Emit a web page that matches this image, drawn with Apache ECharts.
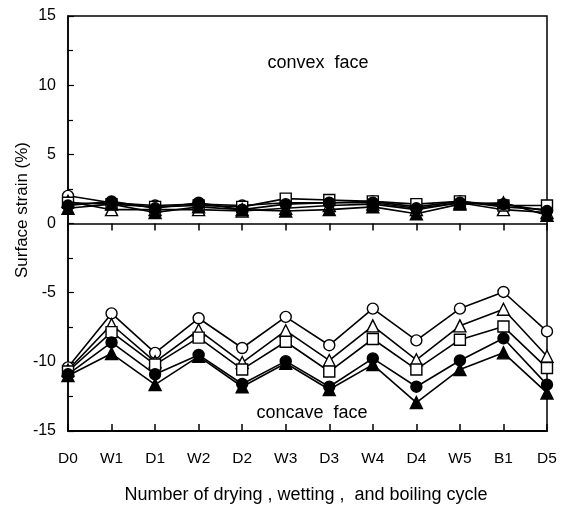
<!DOCTYPE html>
<html>
<head>
<meta charset="utf-8">
<script src="https://cdn.jsdelivr.net/npm/echarts@6/dist/echarts.min.js"></script>
<style>html,body{margin:0;padding:0;background:#fff}#c{width:565px;height:506px}</style>
</head>
<body>
<div id="c"></div>
<script>
const categories = ['D0','W1','D1','W2','D2','W3','D3','W4','D4','W5','B1','D5'];
const yTicks = [-15,-10,-5,0,5,10,15];

// convex face (top)
const convexOpenCircle   = [2.0, 1.5, 1.3, 1.4, 1.3, 1.5, 1.5, 1.6, 1.2, 1.6, 1.2, 1.0];
const convexOpenTriangle = [1.6, 1.0, 1.0, 1.0, 0.9, 1.1, 1.3, 1.4, 1.0, 1.5, 1.0, 0.8];
const convexOpenSquare   = [1.5, 1.4, 1.2, 1.3, 1.2, 1.8, 1.7, 1.6, 1.4, 1.6, 1.3, 1.3];
const convexFillCircle   = [1.3, 1.6, 1.1, 1.5, 1.0, 1.4, 1.5, 1.5, 1.1, 1.5, 1.4, 0.9];
const convexFillTriangle = [1.1, 1.4, 0.8, 1.2, 1.0, 0.9, 1.0, 1.2, 0.7, 1.4, 1.5, 0.6];

// concave face (bottom)
const concaveOpenCircle   = [-10.4, -6.5, -9.35, -6.85, -9.0, -6.75, -8.8, -6.15, -8.45, -6.15, -4.95, -7.8];
const concaveOpenTriangle = [-10.6, -7.3, -10.0, -7.7, -10.05, -7.75, -9.9, -7.4, -9.85, -7.4, -6.2, -9.6];
const concaveOpenSquare   = [-10.7, -7.85, -10.2, -8.25, -10.55, -8.55, -10.7, -8.35, -10.55, -8.4, -7.45, -10.45];
const concaveFillCircle   = [-10.9, -8.6, -10.9, -9.5, -11.6, -9.95, -11.8, -9.75, -11.8, -9.9, -8.3, -11.65];
const concaveFillTriangle = [-11.0, -9.4, -11.65, -9.6, -11.8, -10.1, -12.0, -10.2, -12.95, -10.55, -9.35, -12.25];

const fontFam = '"Liberation Sans", Arial, Helvetica, sans-serif';

function mk(name, data, symbol, filled, size) {
  return {
    name: name, type: 'line', data: data,
    symbol: symbol, symbolSize: size,
    showSymbol: true,
    lineStyle: { color: '#000', width: 1.6 },
    itemStyle: { color: filled ? '#000' : '#fff', borderColor: '#000', borderWidth: 1.4 },
    emphasis: { disabled: true },
    animation: false, z: filled ? 4 : 3
  };
}

const chart = echarts.init(document.getElementById('c'), null, { renderer: 'canvas' });
chart.setOption({
  animation: false,
  backgroundColor: '#fff',
  grid: { left: 68, right: 18, top: 16, bottom: 75, show: true, borderColor: '#000', borderWidth: 1.5, backgroundColor: 'transparent' },
  xAxis: [
    {
      type: 'category', data: categories, boundaryGap: false,
      axisLine: { onZero: false, lineStyle: { color: '#000', width: 1.5 } },
      axisTick: { show: false },
      axisLabel: { color: '#000', fontSize: 15.5, fontFamily: fontFam, margin: 20 },
      splitLine: { show: false }
    },
    {
      type: 'category', data: categories, boundaryGap: false, position: 'bottom',
      axisLine: { onZero: true, lineStyle: { color: '#000', width: 1.5 } },
      axisTick: { show: true, inside: false, length: 7, lineStyle: { color: '#000', width: 1.5 } },
      axisLabel: { show: false },
      splitLine: { show: false }
    },
    {
      type: 'category', data: categories, boundaryGap: false, position: 'bottom',
      axisLine: { onZero: true, lineStyle: { color: '#000', width: 1.5 } },
      axisTick: { show: true, inside: true, length: 7, lineStyle: { color: '#000', width: 1.5 } },
      axisLabel: { show: false },
      splitLine: { show: false }
    }
  ],
  yAxis: {
    type: 'value', min: -15, max: 15, interval: 5,
    axisLine: { show: true, onZero: false, lineStyle: { color: '#000', width: 1.5 } },
    axisTick: { show: true, inside: true, length: 6, lineStyle: { color: '#000', width: 1.2 } },
    minorTick: { show: true, splitNumber: 2, length: 5, lineStyle: { color: '#000', width: 1.2 } },
    axisLabel: { color: '#000', fontSize: 16, fontFamily: fontFam, margin: 12,
      formatter: v => yTicks.includes(v) ? String(v) : '' },
    splitLine: { show: false }
  },
  series: [
    mk('cvOC', convexOpenCircle, 'circle', false, 11),
    mk('cvOT', convexOpenTriangle, 'triangle', false, 12),
    mk('cvOS', convexOpenSquare, 'rect', false, 11),
    mk('cvFC', convexFillCircle, 'circle', true, 11),
    mk('cvFT', convexFillTriangle, 'triangle', true, 12),
    mk('ccOC', concaveOpenCircle, 'circle', false, 11),
    mk('ccOT', concaveOpenTriangle, 'triangle', false, 12),
    mk('ccOS', concaveOpenSquare, 'rect', false, 11),
    mk('ccFC', concaveFillCircle, 'circle', true, 11),
    mk('ccFT', concaveFillTriangle, 'triangle', true, 12)
  ],
  graphic: [
    { type: 'text', x: 22, y: 210, rotation: Math.PI / 2, style: { text: 'Surface strain (%)', fill: '#000', font: '17px ' + fontFam, textAlign: 'center', textVerticalAlign: 'middle' } },
    { type: 'text', x: 306, y: 495, style: { text: 'Number of drying , wetting ,  and boiling cycle', fill: '#000', font: '18px ' + fontFam, textAlign: 'center', textVerticalAlign: 'middle' } },
    { type: 'text', x: 318, y: 63, style: { text: 'convex  face', fill: '#000', font: '18px ' + fontFam, textAlign: 'center', textVerticalAlign: 'middle' } },
    { type: 'text', x: 312, y: 413, style: { text: 'concave  face', fill: '#000', font: '18px ' + fontFam, textAlign: 'center', textVerticalAlign: 'middle' } }
  ]
});
</script>
</body>
</html>
